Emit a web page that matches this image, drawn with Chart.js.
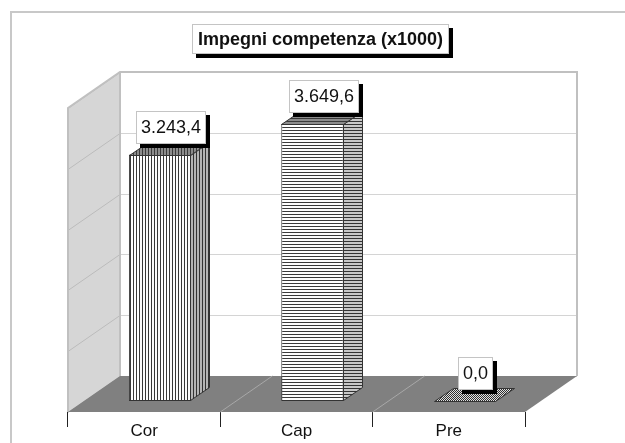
<!DOCTYPE html>
<html lang="it">
<head>
<meta charset="UTF-8">
<title>Impegni competenza (x1000)</title>
<script src="https://cdn.jsdelivr.net/npm/chart.js"></script>
<style>
    html, body { margin: 0; padding: 0; background: #fff; }
    #wrap { width: 625px; height: 443px; position: relative; }
</style>
</head>
<body>
<div id="wrap"><canvas id="chart"></canvas></div>
<script>
// data
const categories = ['Cor', 'Cap', 'Pre'];
const values = [3243.4, 3649.6, 0.0];
const yTicks = [0, 800, 1600, 2400, 3200, 4000];
const chartTitle = 'Impegni competenza (x1000)';

// 3d look: floor depth and where the bars sit inside it
const DEPTH_X = 52, DEPTH_Y = 36;
const BAR_OFF_X = 16, BAR_OFF_Y = 11;
const BAR_DEPTH_X = 19, BAR_DEPTH_Y = 13;
const FONT = "'Liberation Sans', Arial, sans-serif";

const canvas = document.getElementById('chart');
const mainCtx = canvas.getContext('2d');

// italian number format: 3.243,4
function fmtIt(v) {
    const parts = v.toFixed(1).split('.');
    return parts[0].replace(/\B(?=(\d{3})+(?!\d))/g, '.') + ',' + parts[1];
}

function makePattern(dir, bg, fg, period) {
    const c = document.createElement('canvas');
    c.width = period; c.height = period;
    const g = c.getContext('2d');
    g.fillStyle = bg;
    g.fillRect(0, 0, period, period);
    g.fillStyle = fg;
    if (dir === 'v') g.fillRect(0, 0, 1, period);
    else if (dir === 'h') g.fillRect(0, 0, period, 1);
    else for (let i = 0; i < period; i++) g.fillRect(i, period - 1 - i, 1, 1);
    return mainCtx.createPattern(c, 'repeat');
}

const frontFill = [makePattern('v', '#ffffff', '#3a3a3a', 3), makePattern('h', '#ffffff', '#3a3a3a', 3), makePattern('d', '#ffffff', '#3a3a3a', 3)];
const sideFill = [makePattern('v', '#b4b4b4', '#333333', 3), makePattern('h', '#c8c8c8', '#333333', 3), makePattern('d', '#b4b4b4', '#333333', 3)];
const topFill = [makePattern('v', '#8c8c8c', '#3a3a3a', 3), makePattern('h', '#8c8c8c', '#3a3a3a', 3), makePattern('d', '#e0e0e0', '#303030', 2)];

function poly(ctx, pts) {
    ctx.beginPath();
    ctx.moveTo(pts[0][0], pts[0][1]);
    for (let i = 1; i < pts.length; i++) ctx.lineTo(pts[i][0], pts[i][1]);
    ctx.closePath();
}

function line(ctx, x1, y1, x2, y2) {
    ctx.beginPath();
    ctx.moveTo(x1, y1);
    ctx.lineTo(x2, y2);
    ctx.stroke();
}

function shadowBox(ctx, cx, bottom, text, font, padX, h) {
    ctx.font = font;
    const w = Math.round(ctx.measureText(text).width + padX * 2);
    const left = Math.round(cx - w / 2), top = Math.round(bottom - h);
    ctx.fillStyle = '#000';
    ctx.fillRect(left + 4, top + 4, w, h);
    ctx.fillStyle = '#fff';
    ctx.fillRect(left, top, w, h);
    ctx.strokeStyle = '#c4c4c4';
    ctx.lineWidth = 1;
    ctx.strokeRect(left + 0.5, top + 0.5, w - 1, h - 1);
    ctx.fillStyle = '#111';
    ctx.textAlign = 'center';
    ctx.textBaseline = 'middle';
    ctx.fillText(text, left + w / 2, top + h / 2 + 1);
}

const scene3d = {
    id: 'scene3d',
    beforeDraw(chart) {
        const ctx = chart.ctx;
        ctx.save();
        ctx.fillStyle = '#fff';
        ctx.fillRect(0, 0, chart.width, chart.height);
        ctx.strokeStyle = '#c8c8c8';
        ctx.lineWidth = 2;
        ctx.strokeRect(11, 12, chart.width + 20, chart.height + 20);
        // title
        shadowBox(ctx, 320, 54, chartTitle, 'bold 18px ' + FONT, 6, 30);
        ctx.restore();
    },
    beforeDatasetsDraw(chart) {
        const ctx = chart.ctx;
        const a = chart.chartArea;
        const x = chart.scales.x, y = chart.scales.y;
        ctx.save();
        // left wall
        ctx.fillStyle = '#d6d6d6';
        poly(ctx, [[a.left, a.top], [a.left + DEPTH_X, a.top - DEPTH_Y], [a.left + DEPTH_X, a.bottom - DEPTH_Y], [a.left, a.bottom]]);
        ctx.fill();
        // back wall
        ctx.fillStyle = '#fff';
        ctx.fillRect(a.left + DEPTH_X, a.top - DEPTH_Y, a.right - a.left, a.bottom - a.top);
        // gridlines on both walls
        ctx.strokeStyle = '#d4d4d4';
        ctx.lineWidth = 1;
        yTicks.forEach(v => {
            const py = Math.round(y.getPixelForValue(v)) + 0.5;
            line(ctx, a.left + DEPTH_X, py - DEPTH_Y, a.right + DEPTH_X, py - DEPTH_Y);
            ctx.strokeStyle = '#bcbcbc';
            line(ctx, a.left, py, a.left + DEPTH_X, py - DEPTH_Y);
            ctx.strokeStyle = '#d4d4d4';
        });
        // wall edges
        ctx.strokeStyle = '#c0c0c0';
        ctx.lineWidth = 2;
        ctx.beginPath();
        ctx.moveTo(a.left, a.bottom);
        ctx.lineTo(a.left, a.top);
        ctx.lineTo(a.left + DEPTH_X, a.top - DEPTH_Y);
        ctx.lineTo(a.right + DEPTH_X, a.top - DEPTH_Y);
        ctx.lineTo(a.right + DEPTH_X, a.bottom - DEPTH_Y);
        ctx.moveTo(a.left + DEPTH_X, a.top - DEPTH_Y);
        ctx.lineTo(a.left + DEPTH_X, a.bottom - DEPTH_Y);
        ctx.stroke();
        // floor
        ctx.fillStyle = '#808080';
        poly(ctx, [[a.left, a.bottom], [a.right, a.bottom], [a.right + DEPTH_X, a.bottom - DEPTH_Y], [a.left + DEPTH_X, a.bottom - DEPTH_Y]]);
        ctx.fill();
        ctx.strokeStyle = '#a8a8a8';
        ctx.lineWidth = 1;
        for (let i = 1; i < categories.length; i++) {
            const bx = (x.getPixelForValue(i - 1) + x.getPixelForValue(i)) / 2;
            line(ctx, bx, a.bottom, bx + DEPTH_X, a.bottom - DEPTH_Y);
        }
        ctx.restore();
        // bars are drawn in the middle of the floor depth
        ctx.save();
        ctx.translate(BAR_OFF_X, -BAR_OFF_Y);
    },
    afterDatasetsDraw(chart) {
        const ctx = chart.ctx;
        const meta = chart.getDatasetMeta(0);
        ctx.strokeStyle = '#333';
        ctx.lineWidth = 1;
        meta.data.forEach((bar, i) => {
            const L = Math.round(bar.x - bar.width / 2) + 0.5, R = Math.round(bar.x + bar.width / 2) - 0.5;
            const T = Math.round(bar.y) + 0.5, B = Math.round(bar.base) - 0.5;
            if (B - T > 1) {
                ctx.fillStyle = sideFill[i];
                poly(ctx, [[R, T], [R, B], [R + BAR_DEPTH_X, B - BAR_DEPTH_Y], [R + BAR_DEPTH_X, T - BAR_DEPTH_Y]]);
                ctx.fill(); ctx.stroke();
            }
            ctx.fillStyle = topFill[i];
            poly(ctx, [[L, T], [R, T], [R + BAR_DEPTH_X, T - BAR_DEPTH_Y], [L + BAR_DEPTH_X, T - BAR_DEPTH_Y]]);
            ctx.fill(); ctx.stroke();
        });
        ctx.restore();

        // value labels above each bar
        ctx.save();
        meta.data.forEach((bar, i) => {
            const cx = bar.x + BAR_OFF_X + 11;
            const bottom = bar.y - BAR_OFF_Y - 11;
            shadowBox(ctx, cx, bottom, fmtIt(values[i]), '18px ' + FONT, 5, 33);
        });
        // category labels along the floor front edge
        const x = chart.scales.x, a = chart.chartArea;
        ctx.fillStyle = '#111';
        ctx.font = '17px ' + FONT;
        ctx.textAlign = 'center';
        ctx.textBaseline = 'middle';
        categories.forEach((c, i) => ctx.fillText(c, x.getPixelForValue(i), a.bottom + 19));
        ctx.restore();
    }
};

new Chart(canvas, {
    type: 'bar',
    data: {
        labels: categories,
        datasets: [{
            data: values,
            backgroundColor: frontFill,
            borderColor: '#333',
            borderWidth: 1,
            borderSkipped: false,
            barPercentage: 0.41,
            categoryPercentage: 1,
            clip: false
        }]
    },
    options: {
        responsive: true,
        maintainAspectRatio: false,
        animation: false,
        events: [],
        layout: { padding: { left: 68, right: 100, top: 108, bottom: 0 } },
        plugins: { legend: { display: false }, tooltip: { enabled: false }, title: { display: false } },
        scales: {
            x: {
                grid: { display: true, drawOnChartArea: false, drawTicks: true, tickLength: 15, color: '#222', offset: true },
                border: { display: false },
                ticks: { display: false },
                afterFit(scale) { scale.height = 31; }
            },
            y: {
                display: false,
                min: yTicks[0],
                max: yTicks[yTicks.length - 1],
                ticks: { stepSize: yTicks[1] - yTicks[0] }
            }
        }
    },
    plugins: [scene3d]
});
</script>
</body>
</html>
